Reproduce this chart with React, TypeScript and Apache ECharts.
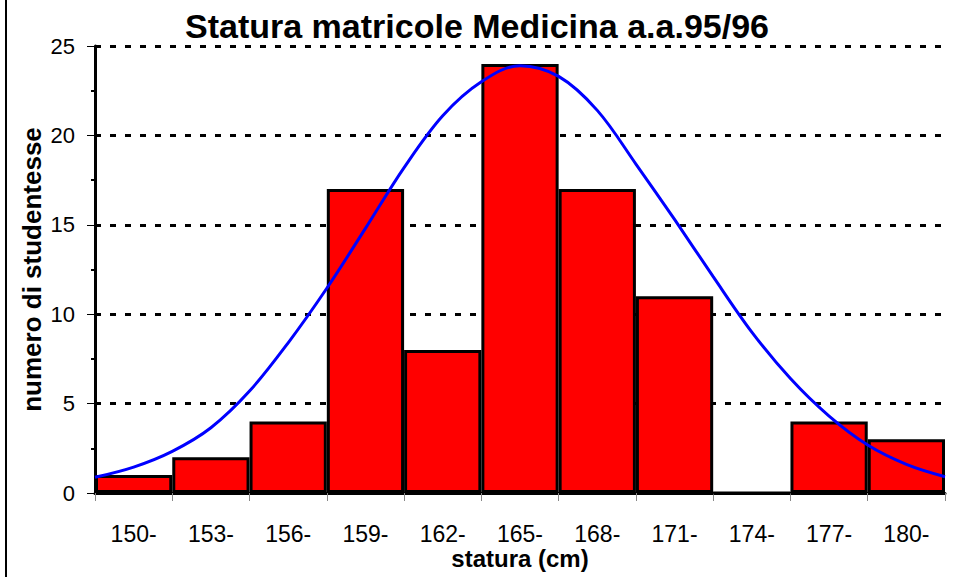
import React, { useEffect, useRef } from "react";
import * as echarts from "echarts";

const categories = ["150-", "153-", "156-", "159-", "162-", "165-", "168-", "171-", "174-", "177-", "180-"];
const counts = [1, 2, 4, 17, 8, 24, 17, 11, 0, 4, 3];
// normal curve: position in bin units (0 = first bar centre), value
const curveX = [-0.5, 0, 0.5, 1, 1.5, 2, 2.5, 3, 3.5, 4, 4.5, 5, 5.5, 6, 6.5, 7, 7.5, 8, 8.5, 9, 9.5, 10, 10.5];
const curveY = [0.88, 1.45, 2.33, 3.65, 5.7, 8.4, 11.45, 14.8, 18.2, 21.1, 23.0, 23.9, 23.3, 21.4, 18.4, 15.3, 12.1, 9.0, 6.4, 4.3, 2.68, 1.6, 0.91];
const yTicks = [0, 5, 10, 15, 20, 25];

const FONT = "'Liberation Sans', Arial, sans-serif";

export default function App() {
  const ref = useRef<HTMLDivElement>(null);
  useEffect(() => {
    if (!ref.current) return;
    const chart = echarts.init(ref.current, null, { renderer: "svg" });
    chart.setOption({
      animation: false,
      backgroundColor: "#ffffff",
      title: {
        text: "Statura matricole Medicina a.a.95/96",
        left: 472,
        textAlign: "center",
        top: 4,
        textStyle: { fontFamily: FONT, fontSize: 34, fontWeight: "bold", color: "#000" },
      },
      grid: { left: 95, right: 8, top: 46, bottom: 84, containLabel: false, outerBoundsMode: "none" },
      xAxis: [
        {
          type: "category",
          data: categories,
          boundaryGap: true,
          name: "statura (cm)",
          nameLocation: "middle",
          nameGap: 53,
          nameMoveOverlap: false,
          nameTextStyle: { fontFamily: FONT, fontSize: 24, fontWeight: "bold", color: "#000" },
          axisLine: { show: true, lineStyle: { color: "#000", width: 3 } },
          axisTick: { show: true, length: 8, lineStyle: { color: "#888", width: 1 } },
          axisLabel: { fontFamily: FONT, fontSize: 23, color: "#000", margin: 29 },
          splitLine: { show: false },
        },
        {
          type: "value",
          min: -0.5,
          max: 10.5,
          show: false,
        },
      ],
      yAxis: {
        type: "value",
        min: 0,
        max: 25,
        interval: 5,
        name: "numero di studentesse",
        nameLocation: "middle",
        nameGap: 50,
        nameMoveOverlap: false,
        nameTextStyle: { fontFamily: FONT, fontSize: 26, fontWeight: "bold", color: "#000" },
        axisLine: { show: true, onZero: false, lineStyle: { color: "#000", width: 3 } },
        axisTick: { show: true, length: 8, lineStyle: { color: "#000", width: 1 } },
        minorTick: { show: true, splitNumber: 2, length: 4, lineStyle: { color: "#000", width: 2 } },
        axisLabel: {
          fontFamily: FONT,
          fontSize: 22,
          color: "#000",
          margin: 20,
          formatter: (v: number) => (yTicks.includes(v) ? String(v) : ""),
        },
        splitLine: { show: true, lineStyle: { color: "#000", width: 3, type: [6, 9] } },
      },
      series: [
        {
          type: "bar",
          xAxisIndex: 0,
          data: counts,
          barCategoryGap: "0%",
          itemStyle: { color: "#ff0000", borderColor: "#000", borderWidth: 3 },
          z: 2,
        },
        {
          type: "line",
          xAxisIndex: 1,
          data: curveX.map((x, i) => [x, curveY[i]]),
          smooth: 0.35,
          showSymbol: false,
          symbol: "none",
          lineStyle: { color: "#0000ff", width: 3 },
          z: 5,
        },
      ],
      graphic: [
        {
          type: "line",
          shape: { x1: 6, y1: 0, x2: 6, y2: 577 },
          style: { stroke: "#000", lineWidth: 2 },
        },
      ],
    });
    return () => chart.dispose();
  }, []);
  return (
    <div
      ref={ref}
      style={{ position: "fixed", left: 0, top: 0, width: 953, height: 577, background: "#fff" }}
    />
  );
}
